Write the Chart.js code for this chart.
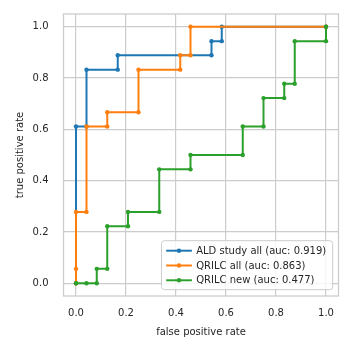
<!DOCTYPE html>
<html lang="en">
<head>
    <meta charset="UTF-8">
    <title>ROC curves</title>
    <style>
        body { margin: 0; background: #fff; }
        #wrap { width: 352px; height: 352px; }
    </style>
</head>
<body>
    <div id="wrap"><canvas id="roc" width="352" height="352"></canvas></div>
    <script src="https://cdn.jsdelivr.net/npm/chart.js"></script>
    <script>
        // values
        const seriesNames = ['ALD study all (auc: 0.919)', 'QRILC all (auc: 0.863)', 'QRILC new (auc: 0.477)'];
        const seriesColors = ['#1f77b4', '#ff7f0e', '#2ca02c'];

        const aldFpr = [0, 0, 0.042, 0.042, 0.167, 0.167, 0.542, 0.542, 0.583, 0.583, 1.0];
        const aldTpr = [0, 0.611, 0.611, 0.833, 0.833, 0.889, 0.889, 0.944, 0.944, 1.0, 1.0];

        const allFpr = [0, 0, 0, 0.042, 0.042, 0.125, 0.125, 0.25, 0.25, 0.417, 0.417, 0.458, 0.458, 1.0];
        const allTpr = [0, 0.056, 0.278, 0.278, 0.611, 0.611, 0.667, 0.667, 0.833, 0.833, 0.889, 0.889, 1.0, 1.0];

        const newFpr = [0, 0.042, 0.083, 0.083, 0.125, 0.125, 0.208, 0.208, 0.333, 0.333, 0.458, 0.458, 0.667, 0.667, 0.75, 0.75, 0.833, 0.833, 0.875, 0.875, 1.0, 1.0];
        const newTpr = [0, 0, 0, 0.056, 0.056, 0.222, 0.222, 0.278, 0.278, 0.444, 0.444, 0.5, 0.5, 0.611, 0.611, 0.722, 0.722, 0.778, 0.778, 0.944, 0.944, 1.0];

        const tickVals = [0, 0.2, 0.4, 0.6, 0.8, 1.0];

        Chart.defaults.font.family = "'DejaVu Sans', sans-serif";
        Chart.defaults.font.size = 10;
        Chart.defaults.color = '#262626';

        const gridColor = '#cccccc';

        function points(xs, ys) {
            return xs.map((x, i) => ({ x: x, y: ys[i] }));
        }

        const fprs = [aldFpr, allFpr, newFpr];
        const tprs = [aldTpr, allTpr, newTpr];
        const datasets = seriesNames.map((name, i) => ({
            label: name,
            data: points(fprs[i], tprs[i]),
            borderColor: seriesColors[i],
            backgroundColor: seriesColors[i],
            borderWidth: 2,
            pointRadius: 2.2,
            pointBorderWidth: 0,
            pointBackgroundColor: seriesColors[i],
            tension: 0,
            order: 3 - i
        }));

        // frame on all four sides
        const framePlugin = {
            id: 'frame',
            beforeDatasetsDraw(chart) {
                const a = chart.chartArea;
                const c = chart.ctx;
                c.save();
                c.strokeStyle = gridColor;
                c.lineWidth = 1.3;
                c.strokeRect(a.left, a.top, a.right - a.left, a.bottom - a.top);
                c.restore();
            }
        };

        // legend boxed in the lower right of the plot
        const legendPlugin = {
            id: 'innerLegend',
            afterDatasetsDraw(chart) {
                const a = chart.chartArea;
                const c = chart.ctx;
                c.save();
                c.font = "10px 'DejaVu Sans'";
                const textW = Math.max(...chart.data.datasets.map(d => c.measureText(d.label).width));
                const rowH = 14.8;
                const boxW = 34.7 + textW + 6.5;
                const boxH = 10 + rowH * (chart.data.datasets.length - 1) + 9.4;
                const right = a.right - 5.8;
                const bottom = a.bottom - 6.3;
                const left = right - boxW;
                const top = bottom - boxH;
                c.beginPath();
                c.roundRect(left, top, boxW, boxH, 3);
                c.fillStyle = 'rgba(255,255,255,0.8)';
                c.fill();
                c.strokeStyle = gridColor;
                c.lineWidth = 1;
                c.stroke();
                chart.data.datasets.forEach((d, i) => {
                    const y = top + 10 + i * rowH;
                    c.strokeStyle = d.borderColor;
                    c.lineWidth = 2;
                    c.beginPath();
                    c.moveTo(left + 4.7, y);
                    c.lineTo(left + 30.4, y);
                    c.stroke();
                    c.fillStyle = d.borderColor;
                    c.beginPath();
                    c.arc(left + 17.5, y, 2.2, 0, Math.PI * 2);
                    c.fill();
                    c.fillStyle = '#262626';
                    c.textBaseline = 'middle';
                    c.textAlign = 'left';
                    c.fillText(d.label, left + 34.7, y + 0.5);
                });
                c.restore();
            }
        };

        new Chart(document.getElementById('roc'), {
            type: 'line',
            data: { datasets: datasets },
            options: {
                responsive: false,
                animation: false,
                layout: { padding: { top: 14, right: 13.5, left: 0, bottom: 0 } },
                plugins: { legend: { display: false }, tooltip: { enabled: false } },
                scales: {
                    x: {
                        type: 'linear',
                        min: -0.05,
                        max: 1.05,
                        afterBuildTicks: s => { s.ticks = tickVals.map(v => ({ value: v })); },
                        afterFit: s => { s.height = 56; s.paddingLeft = 0; s.paddingRight = 0; },
                        ticks: { padding: 11, callback: v => v.toFixed(1), color: '#262626' },
                        grid: { color: gridColor, lineWidth: 1.2, drawTicks: false },
                        border: { display: false },
                        title: { display: true, text: 'false positive rate', padding: { top: 4, bottom: 14 }, color: '#262626' }
                    },
                    y: {
                        type: 'linear',
                        min: -0.05,
                        max: 1.05,
                        afterBuildTicks: s => { s.ticks = tickVals.map(v => ({ value: v })); },
                        afterFit: s => { s.width = 63.5; s.paddingTop = 0; s.paddingBottom = 0; },
                        ticks: { padding: 15, callback: v => v.toFixed(1), color: '#262626' },
                        grid: { color: gridColor, lineWidth: 1.2, drawTicks: false },
                        border: { display: false },
                        title: { display: true, text: 'true positive rate', padding: { top: 14, bottom: 4 }, color: '#262626' }
                    }
                }
            },
            plugins: [framePlugin, legendPlugin]
        });
    </script>
</body>
</html>
